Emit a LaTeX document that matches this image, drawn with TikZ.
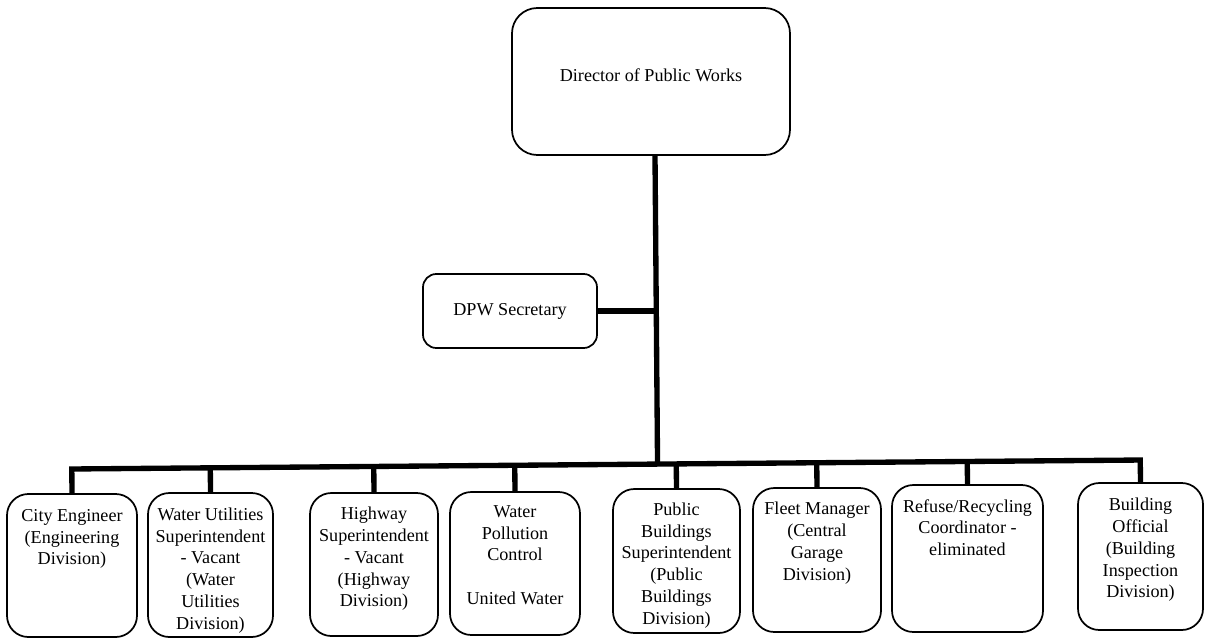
\documentclass[tikz,border=0pt]{standalone}
\usepackage{fontspec}
\setmainfont{Liberation Serif}
\usetikzlibrary{calc}
\begin{document}
\begin{tikzpicture}[x=0.75pt,y=-0.75pt,
  box/.style={draw, line width=1.3pt, rounded corners=16pt, inner sep=0pt},
  lbl/.style={anchor=north, align=center, inner sep=0pt,
    font=\rmfamily\fontsize{13.6}{16.3}\selectfont},
  tree/.style={line width=4pt}]
\useasboundingbox (0,0) rectangle (1209,640);

% top level
\node[box, rounded corners=19pt, minimum width=278*0.75pt, minimum height=147*0.75pt] (dir) at (651,81.5) {};
\node[lbl] (dirtext) at ($(dir.north)+(0,61)$) {Director of Public Works};

\node[box, rounded corners=10pt, minimum width=174*0.75pt, minimum height=74*0.75pt,
  font=\rmfamily\fontsize{13.6}{16.3}\selectfont] (sec) at (510,311) {DPW Secretary};

% divisions
\node[box, minimum width=130*0.75pt, minimum height=143*0.75pt] (b1) at (72,565.5) {};
\node[box, minimum width=125*0.75pt, minimum height=144*0.75pt] (b2) at (210.5,565) {};
\node[box, minimum width=128*0.75pt, minimum height=143*0.75pt] (b3) at (374,564.5) {};
\node[box, minimum width=130*0.75pt, minimum height=143*0.75pt] (b4) at (515,563.5) {};
\node[box, minimum width=127*0.75pt, minimum height=144*0.75pt] (b5) at (676.5,561) {};
\node[box, minimum width=128*0.75pt, minimum height=144*0.75pt] (b6) at (817,560) {};
\node[box, minimum width=151*0.75pt, minimum height=147*0.75pt] (b7) at (967.5,558.5) {};
\node[box, minimum width=125*0.75pt, minimum height=147*0.75pt] (b8) at (1140.5,556.5) {};

\node[lbl] (t1) at ($(b1.north)+(0,16)$) {City Engineer\\(Engineering\\Division)};
\node[lbl] (t2) at ($(b2.north)+(0,15.5)$) {Water Utilities\\Superintendent\\- Vacant\\(Water\\Utilities\\Division)};
\node[lbl] (t3) at ($(b3.north)+(0,15)$) {Highway\\Superintendent\\- Vacant\\(Highway\\Division)};
\node[lbl] (t4) at ($(b4.north)+(0,14)$) {Water\\Pollution\\Control\\[16.3pt]United Water};
\node[lbl] (t5) at ($(b5.north)+(0,14.5)$) {Public\\Buildings\\Superintendent\\(Public\\Buildings\\Division)};
\node[lbl] (t6) at ($(b6.north)+(0,15)$) {Fleet Manager\\(Central\\Garage\\Division)};
\node[lbl] (t7) at ($(b7.north)+(0,15)$) {Refuse/Recycling\\Coordinator -\\eliminated};
\node[lbl] (t8) at ($(b8.north)+(0,16)$) {Building\\Official\\(Building\\Inspection\\Division)};

% connectors
\coordinate (busL) at (70,469);
\coordinate (busR) at (1140,460);
\coordinate (trunkTop) at ($(dir.south)+(4,0)$);
\coordinate (trunkBot) at ($(busL)!(trunkTop)!(busR)$);

\draw[tree] (trunkTop) -- (trunkBot);
\draw[tree] (sec.east) -- (sec.east -| trunkTop);
\draw[tree, line join=miter] (b1.north) -- ($(busL)!(b1.north)!(busR)$)
  -- ($(busL)!(b8.north)!(busR)$) -- (b8.north);
\foreach \b in {b2,b3,b4,b5,b6,b7}
  \draw[tree] (\b.north) -- ($(busL)!(\b.north)!(busR)$);
\end{tikzpicture}
\end{document}
